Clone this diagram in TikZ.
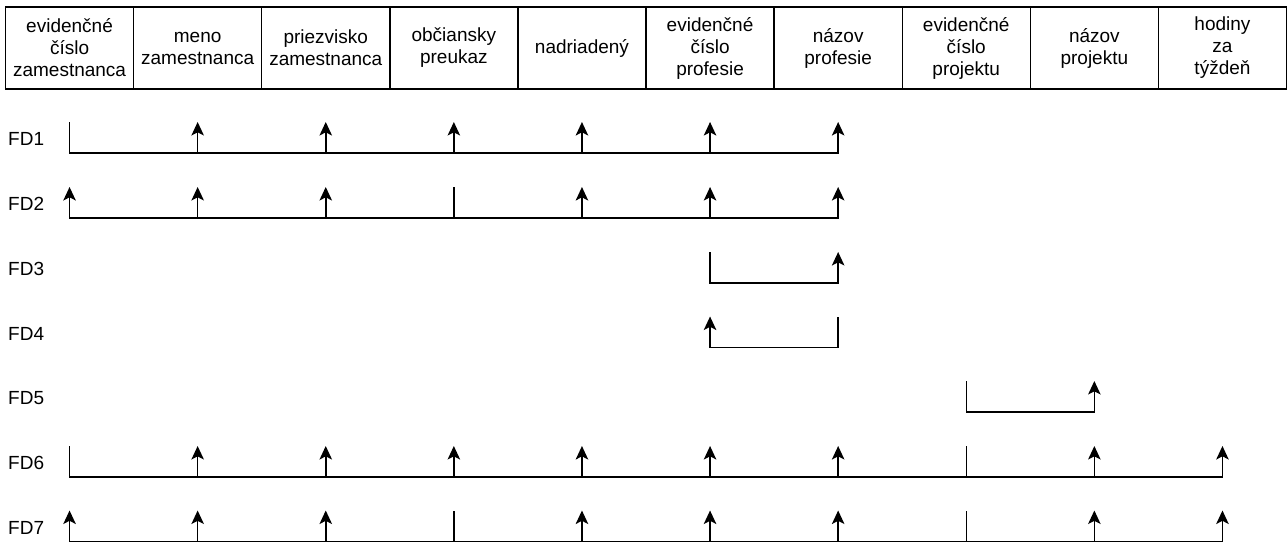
\documentclass[tikz,border=0pt]{standalone}
\usepackage{fontspec}
\setmainfont{Liberation Sans}
\usetikzlibrary{arrows.meta}
\begin{document}
\begin{tikzpicture}[x=1pt,y=-1pt,
  cell/.style={draw,line width=1.4pt,minimum width=128.1pt,minimum height=82pt,
    inner sep=0pt,align=center,font=\fontsize{19}{22}\selectfont},
  fdlabel/.style={anchor=west,inner sep=0pt,font=\fontsize{19}{22}\selectfont},
  link/.style={line width=1.5pt,line cap=rect},
  plain/.style={line width=1.5pt},
  tipped/.style={line width=1.5pt,-{Stealth[length=13.5pt,width=12.5pt,inset=3.2pt]}}]
\useasboundingbox (0,0) rectangle (1287,543);
% attribute header
\foreach \i/\txt in {1/{evidenčné\\číslo\\zamestnanca},2/{meno\\zamestnanca},
  3/{priezvisko\\zamestnanca},4/{občiansky\\preukaz},5/{nadriadený},
  6/{evidenčné\\číslo\\profesie},7/{názov\\profesie},8/{evidenčné\\číslo\\projektu},
  9/{názov\\projektu},10/{hodiny\\za\\týždeň}}
  \node[cell] (h\i) at ({5.5+128.1*(\i-0.5)},48) {\txt};
% one dependency row: #1 row, #2 baseline y, #3 list col/style, #4 first col, #5 last col
\newcommand\fdrow[5]{%
  \node[fdlabel] (fd#1) at (8,#2-14) {FD#1};
  \foreach \c/\t in {#3}{%
    \coordinate (r#1b\c) at (h\c.center |- 0,#2);
    \coordinate (r#1t\c) at (h\c.center |- 0,#2-31);
    \draw[\t] (r#1b\c) -- (r#1t\c);
  }
  \draw[link] (r#1b#4) -- (r#1b#5);
}
\fdrow{1}{153}{1/plain,2/tipped,3/tipped,4/tipped,5/tipped,6/tipped,7/tipped}{1}{7}
\fdrow{2}{218}{1/tipped,2/tipped,3/tipped,4/plain,5/tipped,6/tipped,7/tipped}{1}{7}
\fdrow{3}{283}{6/plain,7/tipped}{6}{7}
\fdrow{4}{347.5}{6/tipped,7/plain}{6}{7}
\fdrow{5}{412}{8/plain,9/tipped}{8}{9}
\fdrow{6}{477}{1/plain,2/tipped,3/tipped,4/tipped,5/tipped,6/tipped,7/tipped,8/plain,9/tipped,10/tipped}{1}{10}
\fdrow{7}{541.5}{1/tipped,2/tipped,3/tipped,4/plain,5/tipped,6/tipped,7/tipped,8/plain,9/tipped,10/tipped}{1}{10}
\end{tikzpicture}
\end{document}
